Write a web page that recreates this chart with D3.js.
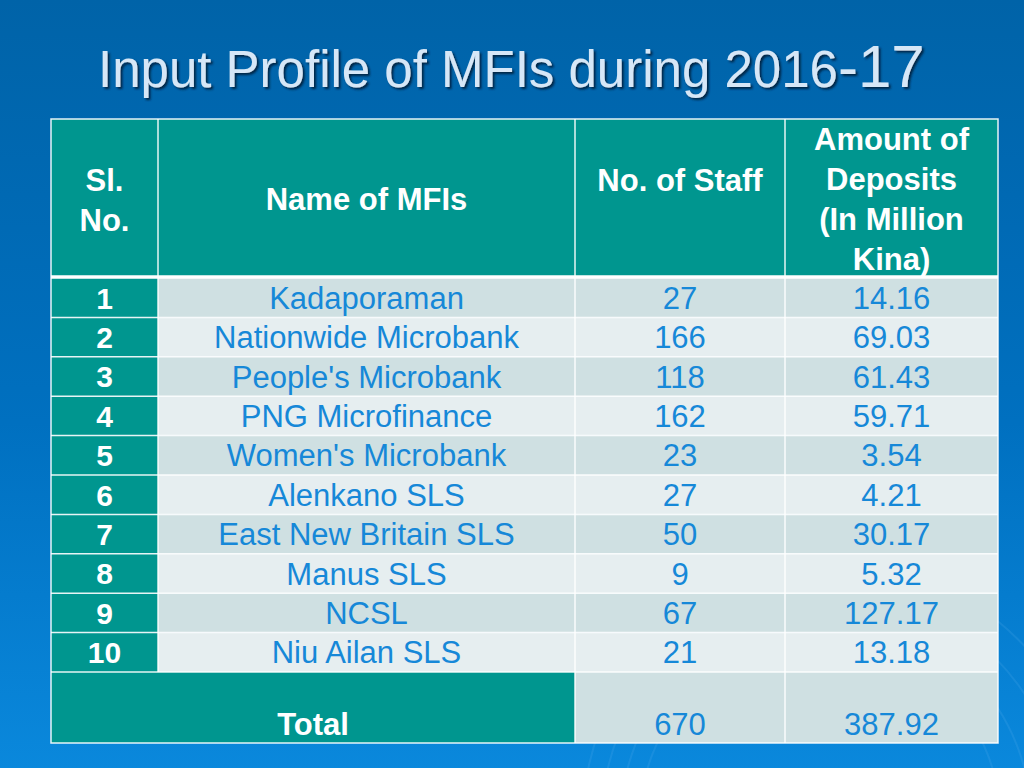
<!DOCTYPE html>
<html>
<head>
<meta charset="utf-8">
<script src="https://cdn.jsdelivr.net/npm/d3@7"></script>
<style>
  html, body { margin: 0; padding: 0; background: #0068b0; }
  svg { display: block; }
</style>
</head>
<body>
<script>
// ---- data ----
var slNo = ["1", "2", "3", "4", "5", "6", "7", "8", "9", "10"];
var mfiNames = ["Kadaporaman", "Nationwide Microbank", "People's Microbank", "PNG Microfinance",
  "Women's Microbank", "Alenkano SLS", "East New Britain SLS", "Manus SLS", "NCSL", "Niu Ailan SLS"];
var staff = [27, 166, 118, 162, 23, 27, 50, 9, 67, 21];
var deposits = [14.16, 69.03, 61.43, 59.71, 3.54, 4.21, 30.17, 5.32, 127.17, 13.18];
var headers = [["Sl.", "No."], ["Name of MFIs"], ["No. of Staff"], ["Amount of", "Deposits", "(In Million", "Kina)"]];
var totalLabel = "Total";
var totalStaff = "670";
var totalDeposits = "387.92";
var titleMain = "Input Profile of MFIs during 2016";
var titleTail = "-17";

var width = 1024, height = 768;

var svg = d3.select("body").append("svg")
  .attr("width", width)
  .attr("height", height)
  .style("font-family", "'Liberation Sans', Arial, sans-serif");

var defs = svg.append("defs");
var bg = defs.append("linearGradient").attr("id", "bg")
  .attr("x1", 0).attr("y1", 0).attr("x2", 0).attr("y2", 1);
bg.append("stop").attr("offset", "0%").attr("stop-color", "#0063a8");
bg.append("stop").attr("offset", "55%").attr("stop-color", "#0070c0");
bg.append("stop").attr("offset", "100%").attr("stop-color", "#0a88dc");

var shadow = defs.append("filter").attr("id", "shadow")
  .attr("x", "-5%").attr("y", "-20%").attr("width", "110%").attr("height", "140%");
shadow.append("feDropShadow").attr("dx", 2).attr("dy", 2).attr("stdDeviation", 1)
  .attr("flood-color", "#001a3a").attr("flood-opacity", 0.9);

svg.append("rect").attr("width", width).attr("height", height).attr("fill", "url(#bg)");

// faint swirl in the lower right corner
var swirl = svg.append("g").attr("fill", "none").attr("stroke", "#5fb4ee").attr("stroke-opacity", 0.18);
[180, 205, 230, 255].forEach(function(r, i) {
  swirl.append("circle").attr("cx", 820 + i * 6).attr("cy", 820).attr("r", r).attr("stroke-width", 2);
});

// ---- title ----
var title = svg.append("text")
  .attr("x", 98).attr("y", 87)
  .attr("fill", "#d6e7f7")
  .attr("filter", "url(#shadow)");
title.append("tspan").attr("font-size", 51).text(titleMain);
title.append("tspan").attr("font-size", 60).text(titleTail);

// ---- table layout ----
var colEdges = [51, 158, 575, 785, 998];
var tableTop = 119, headBottom = 277, rowsBottom = 672, tableBottom = 743;

var y = d3.scaleBand().domain(slNo).range([headBottom + 1, rowsBottom]);

var teal = "#00968f", rowA = "#cfe0e2", rowB = "#e6eef0", blueText = "#1688d8";

var table = svg.append("g");

// header cells
table.selectAll("rect.head").data(headers).enter().append("rect")
  .attr("class", "head")
  .attr("x", function(d, i) { return colEdges[i]; })
  .attr("y", tableTop)
  .attr("width", function(d, i) { return colEdges[i + 1] - colEdges[i]; })
  .attr("height", headBottom - tableTop)
  .attr("fill", teal);

// body rows
var rows = table.selectAll("g.row").data(slNo).enter().append("g").attr("class", "row");
rows.append("rect")
  .attr("x", colEdges[0]).attr("y", function(d) { return y(d); })
  .attr("width", colEdges[1] - colEdges[0]).attr("height", y.bandwidth())
  .attr("fill", teal);
rows.append("rect")
  .attr("x", colEdges[1]).attr("y", function(d) { return y(d); })
  .attr("width", colEdges[4] - colEdges[1]).attr("height", y.bandwidth())
  .attr("fill", function(d, i) { return i % 2 === 0 ? rowA : rowB; });

// total row
table.append("rect").attr("x", colEdges[0]).attr("y", rowsBottom)
  .attr("width", colEdges[2] - colEdges[0]).attr("height", tableBottom - rowsBottom).attr("fill", teal);
table.append("rect").attr("x", colEdges[2]).attr("y", rowsBottom)
  .attr("width", colEdges[4] - colEdges[2]).attr("height", tableBottom - rowsBottom).attr("fill", rowA);

// grid lines
var grid = table.append("g").attr("stroke", "#ffffff").attr("stroke-width", 1.5).attr("stroke-opacity", 0.9);
[1, 2, 3].forEach(function(i) {
  grid.append("line").attr("x1", colEdges[i]).attr("x2", colEdges[i])
    .attr("y1", tableTop).attr("y2", i === 1 ? rowsBottom : tableBottom);
});
grid.selectAll("line.h").data(slNo.slice(1)).enter().append("line")
  .attr("x1", colEdges[0]).attr("x2", colEdges[4])
  .attr("y1", function(d) { return y(d); }).attr("y2", function(d) { return y(d); });
grid.append("line").attr("x1", colEdges[0]).attr("x2", colEdges[4])
  .attr("y1", rowsBottom).attr("y2", rowsBottom);
grid.append("rect").attr("x", colEdges[0]).attr("y", tableTop)
  .attr("width", colEdges[4] - colEdges[0]).attr("height", tableBottom - tableTop).attr("fill", "none");
table.append("line").attr("x1", colEdges[0]).attr("x2", colEdges[4])
  .attr("y1", headBottom).attr("y2", headBottom)
  .attr("stroke", "#ffffff").attr("stroke-width", 3.5);

// header text
var headCentres = [200, 199, 180, 199];
headers.forEach(function(lines, i) {
  var cx = (colEdges[i] + colEdges[i + 1]) / 2;
  var n = lines.length;
  lines.forEach(function(line, j) {
    table.append("text")
      .attr("x", cx)
      .attr("y", headCentres[i] + (j - (n - 1) / 2) * 40)
      .attr("dy", "0.36em")
      .attr("text-anchor", "middle")
      .attr("font-size", 31).attr("font-weight", "bold")
      .attr("fill", "#ffffff")
      .text(line);
  });
});

// body text
function cellText(sel, col, fn, color, bold) {
  sel.append("text")
    .attr("x", (colEdges[col] + colEdges[col + 1]) / 2)
    .attr("y", function(d) { return y(d) + y.bandwidth() / 2; })
    .attr("dy", "0.36em")
    .attr("text-anchor", "middle")
    .attr("font-size", bold ? 30 : 31)
    .attr("font-weight", bold ? "bold" : "normal")
    .attr("fill", color)
    .text(fn);
}
cellText(rows, 0, function(d) { return d; }, "#ffffff", true);
cellText(rows, 1, function(d, i) { return mfiNames[i]; }, blueText, false);
cellText(rows, 2, function(d, i) { return staff[i]; }, blueText, false);
cellText(rows, 3, function(d, i) { return d3.format(".2f")(deposits[i]); }, blueText, false);

// total text
var totalY = 724;
table.append("text").attr("x", (colEdges[0] + colEdges[2]) / 2).attr("y", totalY).attr("dy", "0.36em")
  .attr("text-anchor", "middle").attr("font-size", 31).attr("font-weight", "bold")
  .attr("fill", "#ffffff").text(totalLabel);
table.append("text").attr("x", (colEdges[2] + colEdges[3]) / 2).attr("y", totalY).attr("dy", "0.36em")
  .attr("text-anchor", "middle").attr("font-size", 31).attr("fill", blueText).text(totalStaff);
table.append("text").attr("x", (colEdges[3] + colEdges[4]) / 2).attr("y", totalY).attr("dy", "0.36em")
  .attr("text-anchor", "middle").attr("font-size", 31).attr("fill", blueText).text(totalDeposits);
</script>
</body>
</html>
